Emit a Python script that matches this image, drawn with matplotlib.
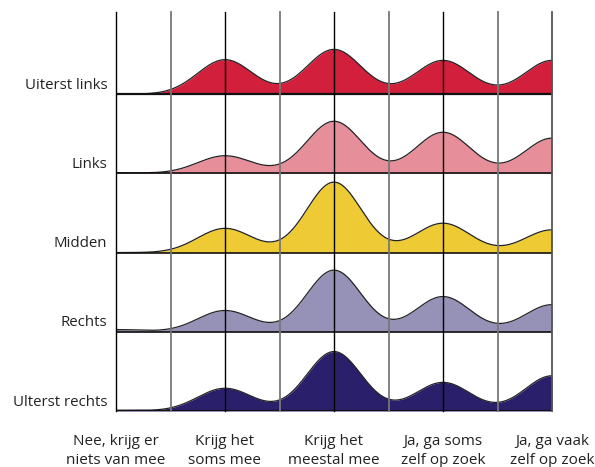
import numpy as np
import matplotlib
matplotlib.use("Agg")
import matplotlib.pyplot as plt

plt.rcParams['font.family'] = ['Open Sans', 'DejaVu Sans']

# answer categories (x) and groups (rows, top to bottom)
categories = ["Nee, krijg er\nniets van mee", "Krijg het\nsoms mee", "Krijg het\nmeestal mee",
              "Ja, ga soms\nzelf op zoek", "Ja, ga vaak\nzelf op zoek"]
groups = ["Uiterst links", "Links", "Midden", "Rechts", "Ulterst rechts"]

# share of answers per category (%)
uiterst_links = [0.0, 23.5, 30.5, 23.0, 23.0]
links = [0.5, 12.0, 35.5, 28.0, 24.0]
midden = [0.0, 16.5, 48.0, 20.0, 15.5]
rechts = [1.5, 14.5, 42.0, 24.0, 18.5]
uiterst_rechts = [0.5, 15.5, 40.5, 19.5, 24.0]

colors = ["#D2203C", "#E68F9B", "#EECB35", "#9591B7", "#2A1F6B"]

def smooth(vals, xs, sigma=0.25):
    y = np.zeros_like(xs)
    for i, v in enumerate(vals):
        y += v * np.exp(-(xs - i) ** 2 / (2 * sigma ** 2))
    return y

def main():
    fig = plt.figure(figsize=(5.95, 4.67), dpi=100)
    ax = fig.add_axes([116/595, 1-411/467, (552-116)/595, (411-12)/467])
    step = 54
    xs = np.linspace(0, 4, 600)
    data = [uiterst_links, links, midden, rechts, uiterst_rechts]
    n = len(data)
    for k, vals in enumerate(data):
        base = (n - 1 - k) * step
        y = smooth(vals, xs)
        ax.fill_between(xs, base, base + y, color=colors[k], zorder=2, lw=0)
        ax.plot(xs, base + y, color="#222222", lw=0.9, zorder=3)
        ax.plot([4, 4], [base, base + y[-1]], color="#222222", lw=0.9, zorder=3)
        ax.axhline(base, color="#111111", lw=1.6 if k in (0, n-1) else 1.2, zorder=4)
        ax.text(-0.08, base + 6, groups[k], ha="right", va="center",
                fontsize=10.8, color="#222222")
    top = 272
    for i in range(4):
        ax.plot([i, i], [0, top], color="black", lw=1.0, zorder=5, clip_on=False)
    for i in range(4):
        ax.plot([i + 0.5, i + 0.5], [0, top], color="#777777", lw=1.3, zorder=5, clip_on=False)
    ax.plot([4, 4], [0, top], color="#555555", lw=1.3, zorder=5, clip_on=False)
    for i, c in enumerate(categories):
        ax.text(i, -16, c, ha="center", va="top", fontsize=11, color="#222222",
                linespacing=1.3)
    ax.set_xlim(0, 4)
    ax.set_ylim(0, top)
    ax.axis("off")
    fig.savefig("out.png", dpi=100)

if __name__ == "__main__":
    main()
